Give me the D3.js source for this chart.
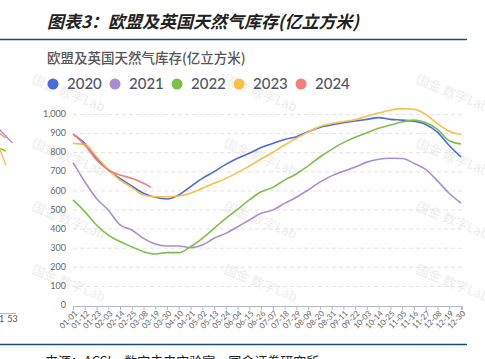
<!DOCTYPE html>
<html>
<head>
<meta charset="utf-8">
<script src="https://cdn.jsdelivr.net/npm/d3@7"></script>
<style>
  body { margin: 0; background: #fff; }
  svg { display: block; font-family: Lato, "Noto Sans CJK SC", sans-serif; }
</style>
</head>
<body>
<div id="chart"></div>
<script>
// 目盛り（11日おき）
const dates = ["01-01","01-12","01-23","02-03","02-14","02-25","03-08","03-19","03-30","04-10","04-21","05-02","05-13","05-24","06-04","06-15","06-26","07-07","07-18","07-29","08-09","08-20","08-31","09-11","09-22","10-03","10-14","10-25","11-05","11-16","11-27","12-08","12-19","12-30"];

// 各年の在庫（亿立方米）, dates と同じ並び
const s2020 = [895,846,768,707,663,623,585,564,555,576,620,663,698,736,768,794,825,846,867,881,907,930,942,955,963,972,981,972,968,962,945,905,835,775];
const s2021 = [745,646,558,497,419,393,349,319,309,309,300,314,349,375,410,445,480,497,532,564,602,643,676,700,722,748,763,768,767,742,710,650,585,534];
const s2022 = [550,489,419,366,332,305,279,267,274,274,305,349,401,454,501,550,593,616,654,686,728,775,815,850,878,902,925,942,958,968,955,920,860,843];
const s2023 = [846,841,777,710,654,616,576,567,567,571,585,611,637,663,693,728,764,800,838,873,905,935,950,960,970,988,1005,1020,1028,1025,998,950,910,893];
const dates2024 = ["01-01","01-12","01-23","02-03","02-14","02-25","03-08","03-15"];
const s2024 = [895,838,759,707,681,663,637,616];

const years = ["2020","2021","2022","2023","2024"];
const colors = ["#4a6be0","#a98dd4","#7cc04a","#fbbf47","#f97d7d"];
const yTicks = [0,100,200,300,400,500,600,700,800,900,1000];

// 左端に切れて写っている隣の図の断片
const sideWeeks = [51, 52, 53];
const sideA = [906, 872, 837];
const sideB = [887, 862];
const sideC = [813, 798];
const sideD = [818, 729];
const sideColors = ["#a98dd4", "#f59a5a", "#7cc04a", "#fbbf47"];

const W = 485, H = 359;
const margin = { left: 73, right: 23, top: 114, bottom: 54 };

const svg = d3.select("#chart").append("svg")
  .attr("width", W).attr("height", H);

const parse = d3.timeParse("%m-%d");
const x = d3.scaleTime()
  .domain([parse("01-01"), parse("12-31")])
  .range([margin.left, W - margin.right]);
const y = d3.scaleLinear().domain([0, 1000]).range([H - margin.bottom, margin.top]);

// header
svg.append("text")
  .attr("x", 47).attr("y", 28)
  .attr("font-family", "'Noto Sans CJK SC', sans-serif")
  .attr("font-size", 17).attr("font-weight", 700).attr("font-style", "italic")
  .attr("fill", "#222")
  .text("图表3：欧盟及英国天然气库存(亿立方米)");

svg.append("line").attr("x1", 0).attr("x2", 467).attr("y1", 39.5).attr("y2", 39.5)
  .attr("stroke", "#1f4b73").attr("stroke-width", 1.6);
svg.append("line").attr("x1", 0).attr("x2", 467).attr("y1", 344.5).attr("y2", 344.5)
  .attr("stroke", "#1f4b73").attr("stroke-width", 1.6);

svg.append("text")
  .attr("x", 45).attr("y", 366)
  .attr("font-family", "'Noto Sans CJK SC', sans-serif")
  .attr("font-size", 13).attr("fill", "#222")
  .text("来源：ACSI，数字未来实验室，国金证券研究所");

// watermarks
const wmX = [31, 223, 415], wmY = [73, 137, 200, 263];
const wm = svg.append("g");
wmY.forEach(wy => wmX.forEach(wx => {
  wm.append("text")
    .attr("transform", `translate(${wx},${wy + 10}) rotate(22)`)
    .attr("font-family", "'Noto Sans CJK SC', sans-serif")
    .attr("font-size", 13).attr("fill", "#000").attr("opacity", 0.07)
    .text("国金  数字Lab");
}));

// chart title
svg.append("text")
  .attr("x", 47).attr("y", 63)
  .attr("font-family", "'Noto Sans CJK SC', sans-serif")
  .attr("font-size", 13.5).attr("font-weight", 500).attr("fill", "#555")
  .text("欧盟及英国天然气库存(亿立方米)");

// legend
const lg = svg.append("g").selectAll("g").data(years).join("g")
  .attr("transform", (d, i) => `translate(${53 + i * 62},84)`);
lg.append("circle").attr("r", 5.5).attr("fill", (d, i) => colors[i]);
lg.append("text").attr("x", 14).attr("dy", "0.36em")
  .attr("font-size", 15).attr("font-weight", 500).attr("fill", "#4f5566")
  .text(d => d);

// grid
svg.append("g").selectAll("line").data(yTicks.filter(d => d > 0)).join("line")
  .attr("x1", margin.left).attr("x2", W - margin.right)
  .attr("y1", d => y(d) + 0.5).attr("y2", d => y(d) + 0.5)
  .attr("stroke", "#e4e4e4").attr("stroke-dasharray", "4,3");

svg.append("g").selectAll("text").data(yTicks).join("text")
  .attr("x", 66).attr("y", d => y(d)).attr("dy", "0.35em")
  .attr("text-anchor", "end").attr("font-size", 9).attr("fill", "#666")
  .text(d3.format(","));

// x axis
const xa = svg.append("g").attr("transform", `translate(0,${y(0) + 1})`)
  .call(d3.axisBottom(x).tickValues(dates.map(parse)).tickSize(4).tickFormat(""));
xa.select(".domain").attr("stroke", "#b4b8c4");
xa.selectAll(".tick line").attr("stroke", "#b4b8c4");

svg.append("g").selectAll("text").data(dates).join("text")
  .attr("transform", d => `translate(${x(parse(d)) + 3},${y(0) + 7}) rotate(-45)`)
  .attr("dy", "0.35em").attr("text-anchor", "end")
  .attr("font-size", 8).attr("fill", "#666")
  .text(d => d);

// lines
const line = d3.line().x(d => x(parse(d[0]))).y(d => y(d[1])).curve(d3.curveMonotoneX);
const series = [
  { dates: dates, vals: s2020 },
  { dates: dates, vals: s2021 },
  { dates: dates, vals: s2022 },
  { dates: dates, vals: s2023 },
  { dates: dates2024, vals: s2024 }
];
series.forEach((s, i) => {
  svg.append("path")
    .datum(s.dates.map((d, j) => [d, s.vals[j]]))
    .attr("fill", "none").attr("stroke", colors[i]).attr("stroke-width", 1.6)
    .attr("d", line);
});

// left fragment
const sx = d3.scaleLinear().domain([51, 53]).range([-1, 12.5]);
const sy = d3.scaleLinear().domain([0, 1000]).range([313, 110]);
const sideLine = d3.line().x((d, j) => sx(sideWeeks[j])).y(d => sy(d));
[sideA, sideB, sideC, sideD].forEach((s, i) => {
  svg.append("path").attr("d", sideLine(s))
    .attr("fill", "none").attr("stroke", sideColors[i]).attr("stroke-width", 1.4);
});
svg.append("line").attr("x1", 0).attr("x2", 16).attr("y1", 313.5).attr("y2", 313.5)
  .attr("stroke", "#b4b8c4");
svg.append("g").selectAll("text").data([51, 53]).join("text")
  .attr("x", d => sx(d)).attr("y", 322).attr("text-anchor", "middle")
  .attr("font-size", 9).attr("fill", "#555")
  .text(d => d);
</script>
</body>
</html>
